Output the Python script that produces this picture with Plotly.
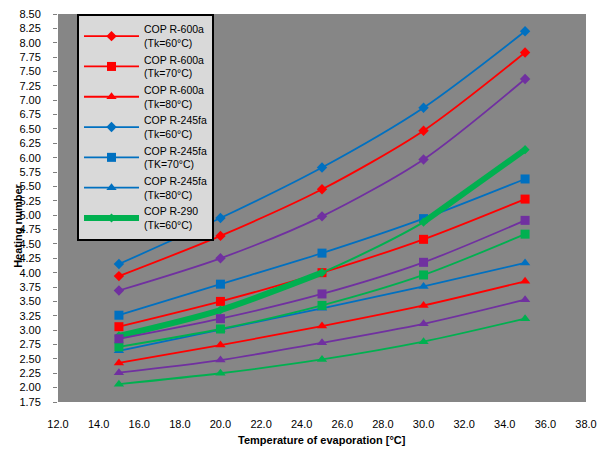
import plotly.graph_objects as go

# ---- data ----
t_evap = [15, 20, 25, 30, 35]

r600a_tk60 = [3.94, 4.64, 5.45, 6.47, 7.83]
r600a_tk70 = [3.06, 3.50, 4.00, 4.58, 5.28]
r600a_tk80 = [2.43, 2.74, 3.07, 3.43, 3.85]

r245fa_tk60 = [4.15, 4.95, 5.83, 6.87, 8.20]
r245fa_tk70 = [3.26, 3.80, 4.34, 4.94, 5.63]
r245fa_tk80 = [2.64, 3.01, 3.38, 3.76, 4.17]

r290_tk60 = [2.90, 3.35, 4.00, 4.88, 6.14]
r290_tk70 = [2.71, 3.02, 3.43, 3.96, 4.67]
r290_tk80 = [2.06, 2.25, 2.49, 2.80, 3.20]

s4_tk60 = [3.69, 4.25, 4.98, 5.97, 7.37]
s4_tk70 = [2.85, 3.20, 3.63, 4.18, 4.91]
s4_tk80 = [2.26, 2.48, 2.78, 3.11, 3.53]

y_ticks = [1.75 + 0.25 * i for i in range(28)]
x_ticks = list(range(12, 39, 2))

RED = "#FF0000"
BLUE = "#0070C0"
GREEN = "#00B050"
PURPLE = "#7030A0"

FONT = "Liberation Sans, Arial, sans-serif"

fig = go.Figure()


def add(y, name, color, symbol, size, show=True, width=1.8, x=None):
    fig.add_trace(go.Scatter(
        x=x if x is not None else t_evap, y=y, name=name, mode="lines+markers",
        line=dict(color=color, width=width, shape="spline", smoothing=0.8),
        marker=dict(symbol=symbol, size=size, color=color),
        showlegend=show,
    ))


add(r600a_tk60, "COP R-600a<br>(Tk=60°C)", RED, "diamond", 8)
add(r600a_tk70, "COP R-600a<br>(Tk=70°C)", RED, "square", 9)
add(r600a_tk80, "COP R-600a<br>(Tk=80°C)", RED, "triangle-up", 9)
add(r245fa_tk60, "COP R-245fa<br>(Tk=60°C)", BLUE, "diamond", 8)
add(r245fa_tk70, "COP R-245fa<br>(TK=70°C)", BLUE, "square", 9)
add(r245fa_tk80, "COP R-245fa<br>(Tk=80°C)", BLUE, "triangle-up", 9)

# R-290 Tk=60: thin full curve plus thick parts
fig.add_trace(go.Scatter(
    x=t_evap, y=r290_tk60, name="COP R-290 (Tk=60°C)", mode="lines",
    line=dict(color=GREEN, width=2, shape="spline", smoothing=0.8),
    showlegend=False,
))
add(r290_tk60[:3], "COP R-290<br>(Tk=60°C)", GREEN, "diamond", 7, width=6, x=t_evap[:3])
add(r290_tk60[3:], "COP R-290 (Tk=60°C)", GREEN, "diamond", 7, show=False, width=6, x=t_evap[3:])

add(r290_tk70, "COP R-290 (Tk=70°C)", GREEN, "square", 9, show=False)
add(r290_tk80, "COP R-290 (Tk=80°C)", GREEN, "triangle-up", 9, show=False)
add(s4_tk60, "COP (Tk=60°C)", PURPLE, "diamond", 8, show=False)
add(s4_tk70, "COP (Tk=70°C)", PURPLE, "square", 9, show=False)
add(s4_tk80, "COP (Tk=80°C)", PURPLE, "triangle-up", 9, show=False)

# page body has an 8px margin -> shrink figure and shift margins
fig.update_layout(
    width=597, height=447,
    margin=dict(l=50, r=19, t=6, b=53, autoexpand=False),
    paper_bgcolor="white",
    plot_bgcolor="#868686",
    font=dict(family=FONT, size=11, color="black"),
    legend=dict(
        x=0.036, y=1.0, xanchor="left", yanchor="top",
        bgcolor="#D9D9D9", bordercolor="black", borderwidth=2,
        font=dict(family=FONT, size=10.5, color="black"),
        tracegroupgap=0, itemwidth=55,
    ),
    xaxis=dict(
        range=[12, 38], tickvals=x_ticks, tickformat=".1f", automargin=False,
        showgrid=False, zeroline=False, showline=False, ticks="",
        ticklabelstandoff=14, ticklabeloverflow="allow",
        tickfont=dict(family=FONT, size=11, color="black"),
    ),
    yaxis=dict(
        range=[1.75, 8.5], tickvals=y_ticks, tickformat=".2f", automargin=False,
        showgrid=False, zeroline=False, showline=False,
        ticks="outside", ticklen=4, tickcolor="#7f7f7f", tickwidth=1,
        ticklabelstandoff=10, ticklabeloverflow="allow",
        tickfont=dict(family=FONT, size=11, color="black"),
    ),
    annotations=[
        dict(text="<b>Temperature of evaporation [°C]</b>", xref="paper", yref="paper",
             x=0.5, y=-0.097, xanchor="center", yanchor="middle", showarrow=False,
             font=dict(family=FONT, size=11, color="black")),
        dict(text="<b>Heating number</b>", xref="paper", yref="paper",
             x=-0.0758, y=0.454, xanchor="center", yanchor="middle", showarrow=False,
             textangle=-90, font=dict(family=FONT, size=11, color="black")),
    ],
)

fig.write_html("out.html")
